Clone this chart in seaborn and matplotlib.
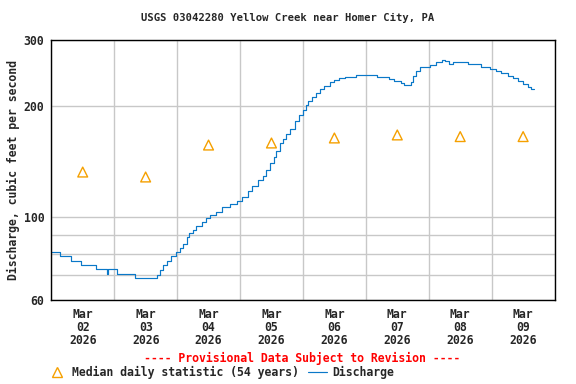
import numpy as np
import pandas as pd
import matplotlib
matplotlib.use('Agg')
from matplotlib import pyplot as plt
from matplotlib.lines import Line2D
import seaborn as sns

# discharge readings, hours after Mar 02 00:00
hours = [0, 3.3, 7.6, 11.2, 17.0, 21.4, 21.8, 24.9, 32.0, 40.4, 41.4, 42.7, 44.2, 45.7,
         47.5, 49.3, 50.3, 51.6, 52.6, 54.1, 55.4, 57.4, 58.9, 60.7, 63.0, 65.0, 68.1,
         70.9, 72.7, 74.9, 76.5, 79.0, 80.8, 81.8, 83.3, 84.8, 85.9, 87.1, 88.4, 89.7,
         91.2, 93.0, 94.5, 96.0, 97.3, 98.1, 99.3, 100.8, 102.6, 104.2, 106.2, 108.0,
         109.7, 112.0, 116.1, 119.5, 124.2, 128.8, 130.8, 133.3, 134.6, 137.2, 137.9,
         139.0, 140.5, 144.3, 146.6, 149.1, 150.1, 151.9, 153.4, 159.0, 163.8, 167.4,
         169.7, 171.5, 174.3, 176.3, 178.1, 179.8, 181.9, 183.1, 184.2]
discharge = [81, 78.8, 76.4, 74.4, 72.6, 70.5, 72.6, 70.4, 68.8, 70.2, 72.4, 74.4, 76.6,
             78.8, 80.8, 83, 85, 88.5, 90.7, 92.4, 95, 97.1, 99.6, 101.7, 103.6, 107,
             108.7, 111, 113.8, 117.6, 121.6, 125.9, 129.1, 134.1, 139.8, 145.1, 151.1,
             158.1, 162.7, 167.6, 173.3, 181.4, 188.6, 194.3, 200.4, 205.4, 210.5, 215.7,
             221.2, 226, 230.8, 233.8, 236.7, 239.3, 242.2, 242, 238.8, 235.8, 232.9,
             230, 227.6, 230.8, 239.5, 247.7, 254.5, 257.2, 262.2, 265.7, 262.8, 258.3,
             262.2, 258.3, 254.5, 251.2, 247.7, 244.4, 240.2, 236.7, 232.9, 228, 224.9,
             221.9, 221.9]

median_days = ['2026-03-02', '2026-03-03', '2026-03-04', '2026-03-05',
               '2026-03-06', '2026-03-07', '2026-03-08', '2026-03-09']
median_vals = [132.5, 128.5, 156.6, 158.6, 163.6, 166.7, 165, 165]

y_ticks = [60, 70, 80, 90, 100, 200, 300]
y_labels = ['60', '', '', '', '100', '200', '300']

start = pd.Timestamp('2026-03-02')
df = pd.DataFrame({'time': start + pd.to_timedelta(hours, unit='h'), 'q': discharge})
med = pd.DataFrame({'time': pd.to_datetime(median_days) + pd.Timedelta(hours=12),
                    'q': median_vals})

sns.set_style('white')
plt.rcParams['font.family'] = ['DejaVu Sans Mono']
plt.rcParams['font.weight'] = 'bold'
fs = 8.3
fs_title = 7.6

fig = plt.figure(figsize=(5.76, 3.84), dpi=100)
ax = fig.add_axes([0.089, 0.2187, 0.8738, 0.6771])

blue = '#0a78c8'
orange = '#f5a000'
sns.lineplot(data=df, x='time', y='q', ax=ax, color=blue, linewidth=0.85,
             drawstyle='steps-post', legend=False)
sns.scatterplot(data=med, x='time', y='q', ax=ax, marker='^', s=50,
                facecolor='none', edgecolor=orange, linewidth=1.0, legend=False)

ax.set_yscale('log')
ax.set_ylim(60, 300)
ax.set_yticks(y_ticks)
ax.set_yticklabels(y_labels, fontsize=fs, fontweight='bold')
ax.yaxis.set_minor_locator(matplotlib.ticker.NullLocator())

ax.set_xlim(pd.Timestamp('2026-03-02'), pd.Timestamp('2026-03-10'))
days = pd.date_range('2026-03-02', '2026-03-10', freq='D')
ax.set_xticks(days)
ax.set_xticklabels([])
noons = days[:-1] + pd.Timedelta(hours=12)
ax.set_xticks(noons, minor=True)
ax.set_xticklabels([d.strftime('%b\n%d\n%Y') for d in noons], minor=True,
                   fontsize=fs, fontweight='bold', linespacing=1.0)

ax.grid(True, which='major', color='#c8c8c8', linewidth=1)
ax.tick_params(axis='both', which='both', length=0)
ax.tick_params(axis='x', which='minor', pad=6)
ax.tick_params(axis='y', pad=5)
for s in ax.spines.values():
    s.set_color('black')
    s.set_linewidth(1)

ax.set_xlabel('')
ax.set_ylabel('Discharge, cubic feet per second', fontsize=fs, fontweight='bold', labelpad=3)

fig.text(0.5, 0.952, 'USGS 03042280 Yellow Creek near Homer City, PA', ha='center',
         va='center', fontsize=fs_title, fontweight='bold')
fig.text(0.524, 0.067, '---- Provisional Data Subject to Revision ----', ha='center',
         va='center', fontsize=fs, fontweight='bold', color='red')

handles = [Line2D([], [], marker='^', linestyle='none', markerfacecolor='none',
                  markeredgecolor=orange, markersize=7, markeredgewidth=1.0),
           Line2D([], [], color=blue, linewidth=0.85)]
fig.legend(handles, ['Median daily statistic (54 years)', 'Discharge'],
           loc='center left', bbox_to_anchor=(0.083, 0.031), ncol=2, frameon=False,
           prop={'size': fs, 'weight': 'bold'}, handlelength=1.6, handletextpad=0.5,
           columnspacing=0.8, borderpad=0, borderaxespad=0)

fig.savefig('out.png', dpi=100)
